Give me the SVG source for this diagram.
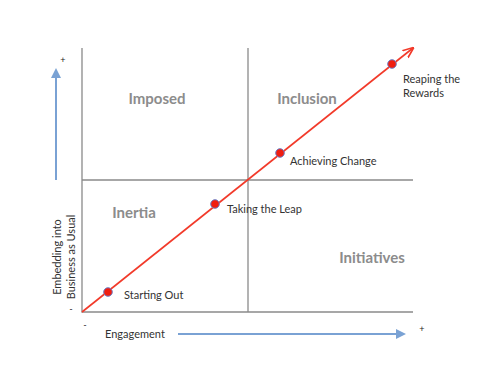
<svg xmlns="http://www.w3.org/2000/svg" width="497" height="373" viewBox="0 0 497 373">
<defs>
<style>
.q{font-family:Lato,"Liberation Sans",sans-serif;font-weight:bold;font-size:15px;fill:#8c8c8c}
.l{font-family:Lato,"Liberation Sans",sans-serif;font-size:11px;fill:#333}
.s{font-family:"Liberation Sans",sans-serif;font-size:9px;fill:#222}
.g{stroke:#8a8a8a;stroke-width:1.3;fill:none}
.b{stroke:#7aa2d4;stroke-width:2;fill:none}
.r{stroke:#f23a2a;stroke-width:1.6;fill:none}
.d{fill:#f01d10;stroke:#6d7fc8;stroke-width:1}
</style>
<marker id="ab" viewBox="0 0 10 10" refX="8" refY="5" markerWidth="5" markerHeight="5" orient="auto"><path d="M0,0 L10,5 L0,10 Z" fill="#7aa2d4"/></marker>
<marker id="ar" viewBox="0 0 10 10" refX="9" refY="5" markerWidth="7" markerHeight="7" orient="auto"><path d="M0,1 L10,5 L0,9" fill="none" stroke="#f23a2a" stroke-width="1.5"/></marker>
</defs>
<rect width="497" height="373" fill="#fff"/>
<g id="connectors">
<path class="g" d="M82,48 V312 H413"/>
<path class="g" d="M82,180 H413"/>
<path class="g" d="M248,48 V312"/>
<path class="b" d="M56,180 V70" marker-end="url(#ab)"/>
<path class="b" d="M178,334 H404" marker-end="url(#ab)"/>
<path class="r" d="M82,312 L413,48" marker-end="url(#ar)"/>
</g>
<g id="quadrants">
<text class="q" x="157" y="104" text-anchor="middle">Imposed</text>
<text class="q" x="307" y="104" text-anchor="middle">Inclusion</text>
<text class="q" x="134" y="218" text-anchor="middle">Inertia</text>
<text class="q" x="372" y="263" text-anchor="middle">Initiatives</text>
</g>
<g id="starting-out">
<circle class="d" cx="108" cy="292" r="4.3"/>
<text class="l" x="124" y="299">Starting Out</text>
</g>
<g id="taking-the-leap">
<circle class="d" cx="215" cy="204" r="4.3"/>
<text class="l" x="227" y="213">Taking the Leap</text>
</g>
<g id="achieving-change">
<circle class="d" cx="280" cy="153" r="4.3"/>
<text class="l" x="290" y="165">Achieving Change</text>
</g>
<g id="reaping-the-rewards">
<circle class="d" cx="392" cy="64" r="4.3"/>
<text class="l" x="403" y="83">Reaping the</text>
<text class="l" x="403" y="97">Rewards</text>
</g>
<g id="axes-labels">
<text class="l" x="105" y="338">Engagement</text>
<text class="l" transform="translate(61,257) rotate(-90)" text-anchor="middle">Embedding into</text>
<text class="l" transform="translate(75,257) rotate(-90)" text-anchor="middle">Business as Usual</text>
<text class="s" x="63" y="63" text-anchor="middle">+</text>
<text class="s" x="422" y="332" text-anchor="middle">+</text>
<text class="s" x="71" y="312" text-anchor="middle">-</text>
<text class="s" x="85" y="328" text-anchor="middle">-</text>
</g>
</svg>
